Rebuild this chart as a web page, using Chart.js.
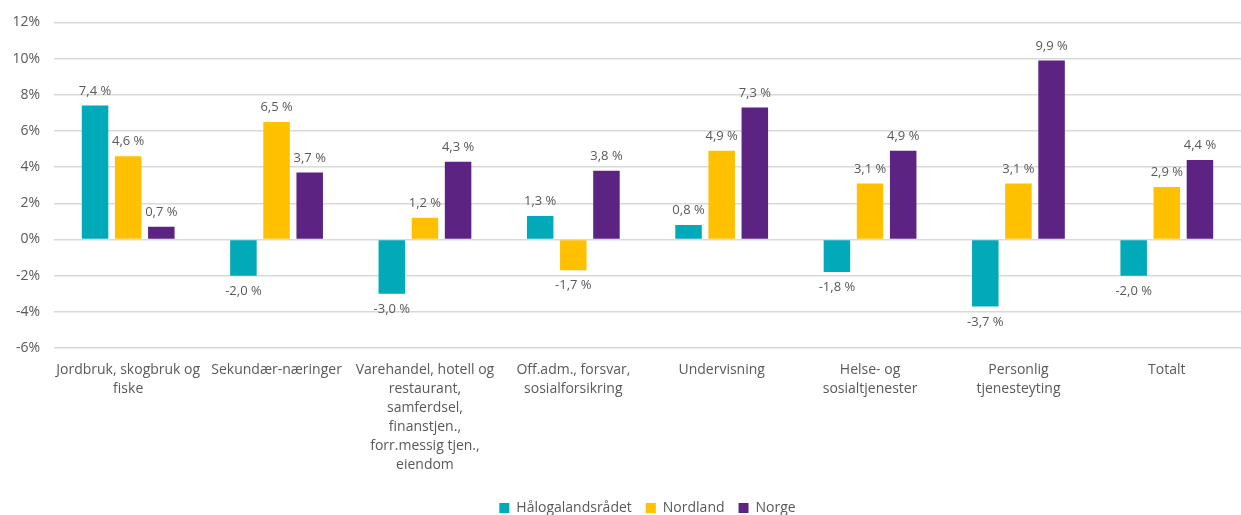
<!DOCTYPE html>
<html lang="no">
<head>
<meta charset="UTF-8">
<title>Endring i sysselsetting</title>
<script src="https://cdn.jsdelivr.net/npm/chart.js"></script>
<style>
  html, body { margin: 0; padding: 0; background: #fff; }
  #wrap { width: 1241px; height: 515px; position: relative; }
</style>
</head>
<body>
<div id="wrap"><canvas id="graf"></canvas></div>
<script>
// kategorier (flere linjer per etikett)
var kategorier = [
  ["Jordbruk, skogbruk og", "fiske"],
  ["Sekundær-næringer"],
  ["Varehandel, hotell og", "restaurant,", "samferdsel,", "finanstjen.,", "forr.messig tjen.,", "eiendom"],
  ["Off.adm., forsvar,", "sosialforsikring"],
  ["Undervisning"],
  ["Helse- og", "sosialtjenester"],
  ["Personlig", "tjenesteyting"],
  ["Totalt"]
];
var haalogaland = [7.4, -2.0, -3.0, 1.3, 0.8, -1.8, -3.7, -2.0];
var nordland    = [4.6, 6.5, 1.2, -1.7, 4.9, 3.1, 3.1, 2.9];
var norge       = [0.7, 3.7, 4.3, 3.8, 7.3, 4.9, 9.9, 4.4];
var yTicks = [-6, -4, -2, 0, 2, 4, 6, 8, 10, 12];

var skrift = "'Open Sans', 'Liberation Sans', sans-serif";
var gra = "#595959";

// tegner verdietiketter over/under stolpene
var etiketter = {
  id: "etiketter",
  afterDatasetsDraw: function (chart) {
    var ctx = chart.ctx;
    ctx.save();
    ctx.font = "13px " + skrift;
    ctx.fillStyle = gra;
    ctx.textAlign = "center";
    chart.data.datasets.forEach(function (ds, i) {
      var meta = chart.getDatasetMeta(i);
      meta.data.forEach(function (bar, j) {
        var v = ds.data[j];
        var txt = v.toFixed(1).replace(".", ",") + " %";
        if (v >= 0) {
          ctx.textBaseline = "bottom";
          ctx.fillText(txt, bar.x, bar.y - 8);
        } else {
          ctx.textBaseline = "top";
          ctx.fillText(txt, bar.x, bar.y + 9);
        }
      });
    });
    ctx.restore();
  }
};

new Chart(document.getElementById("graf"), {
  type: "bar",
  data: {
    labels: kategorier,
    datasets: [
      { label: "Hålogalandsrådet", data: haalogaland, backgroundColor: "#00AAB9" },
      { label: "Nordland", data: nordland, backgroundColor: "#FFC000" },
      { label: "Norge", data: norge, backgroundColor: "#5C2382" }
    ]
  },
  options: {
    responsive: true,
    maintainAspectRatio: false,
    animation: false,
    categoryPercentage: 0.67,
    barPercentage: 0.8,
    layout: { padding: { top: 8, right: 0, left: 0, bottom: -10 } },
    plugins: {
      legend: {
        position: "bottom",
        fullSize: false,
        labels: {
          boxWidth: 10, boxHeight: 10,
          font: { size: 14, family: skrift },
          color: gra,
          padding: 14
        }
      },
      tooltip: { enabled: false }
    },
    scales: {
      x: {
        afterFit: function (axis) { axis.height = 139; },
        grid: { display: false, drawTicks: false },
        border: { display: false },
        ticks: {
          color: gra,
          font: { size: 14, family: skrift, lineHeight: 1.35 },
          maxRotation: 0,
          autoSkip: false,
          padding: 13
        }
      },
      y: {
        min: -6, max: 12,
        afterBuildTicks: function (axis) {
          axis.ticks = yTicks.map(function (v) { return { value: v }; });
        },
        afterFit: function (axis) { axis.width = 54; },
        grid: { color: "#d9d9d9", lineWidth: 1.5, drawTicks: false },
        border: { display: false },
        ticks: {
          color: gra,
          font: { size: 14, family: skrift },
          padding: 14,
          callback: function (v) { return v + "%"; }
        }
      }
    }
  },
  plugins: [etiketter]
});
</script>
</body>
</html>
